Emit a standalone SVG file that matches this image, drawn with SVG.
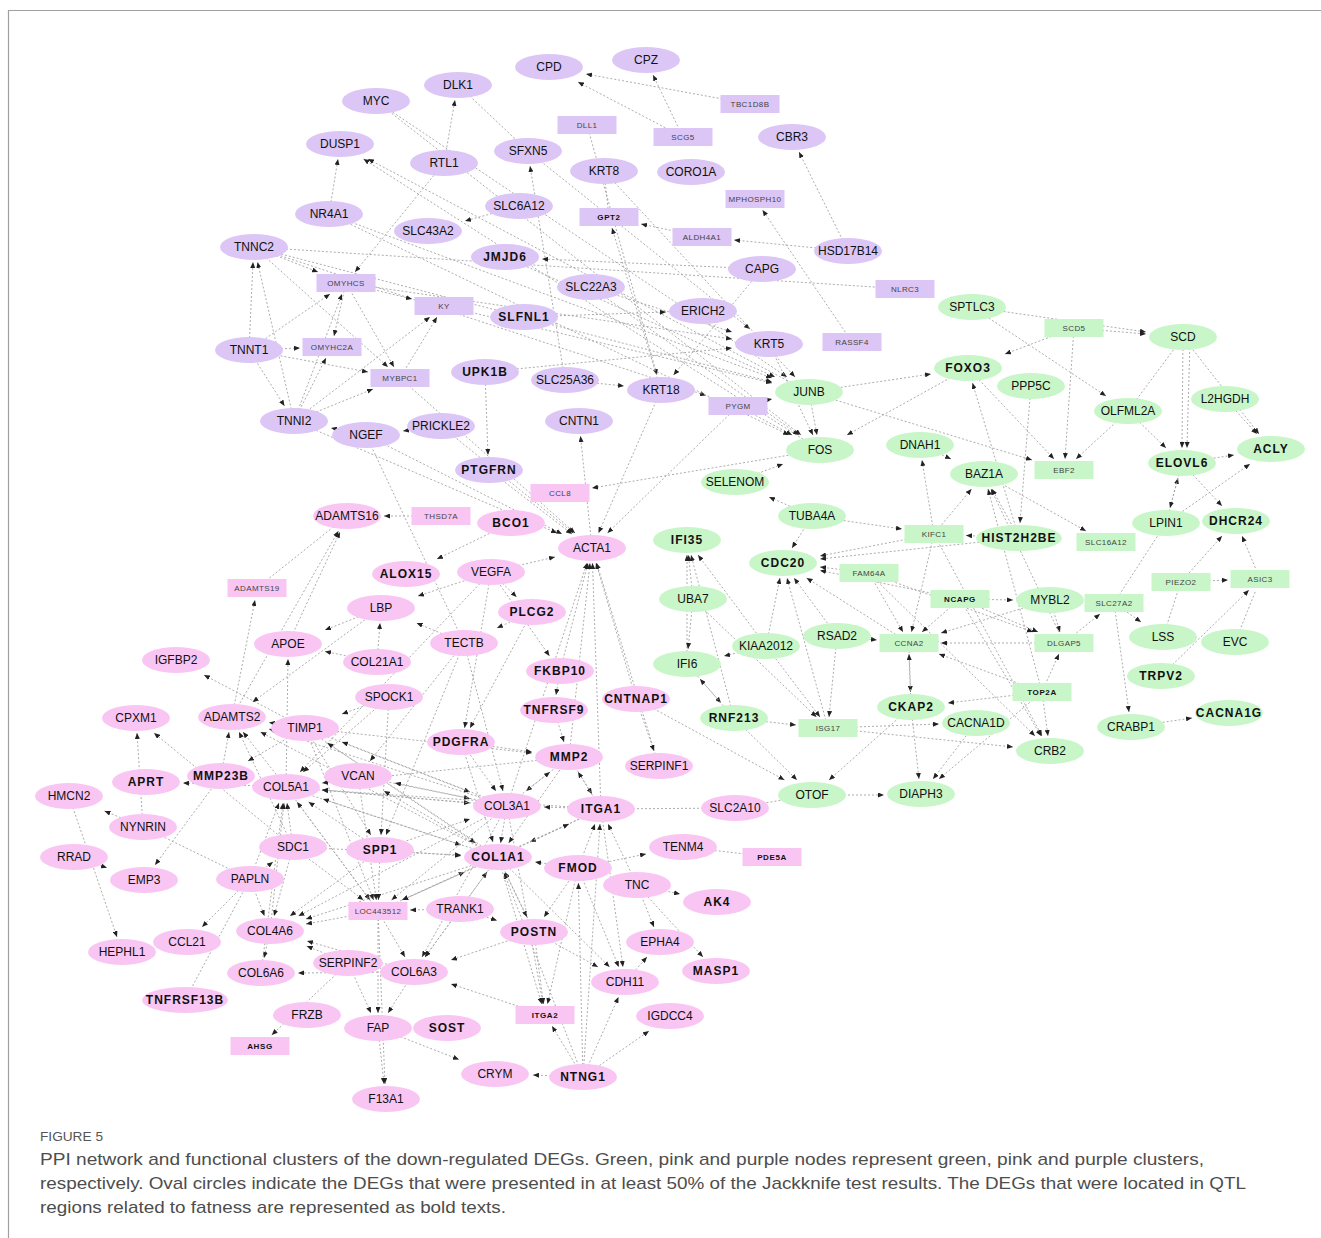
<svg xmlns="http://www.w3.org/2000/svg" width="1321" height="1238" viewBox="0 0 1321 1238">
<defs>
<marker id="a" viewBox="0 0 6 5" refX="6" refY="2.5" markerWidth="6" markerHeight="5" markerUnits="userSpaceOnUse" orient="auto"><path d="M0,0L6,2.5L0,5z" fill="#222"/></marker>
<style>
.e line{stroke:#a3a3a3;stroke-width:0.9;stroke-dasharray:2 2;marker-end:url(#a)}
.pl line{stroke:#a3a3a3;stroke-width:0.9;stroke-dasharray:2 2}
.p{fill:#dcc6f6}.k{fill:#f9c6f4}.g{fill:#c8f6c8}
text{font-family:"Liberation Sans",Arial,sans-serif}
.n text{font-size:12px;text-anchor:middle;fill:#111}
.n text.b{font-weight:bold;letter-spacing:1px}
.n text.s{font-size:8px;fill:#444;letter-spacing:0.4px}
.n text.sb{font-size:8px;font-weight:bold;fill:#111;letter-spacing:0.6px}
.cap{font-size:17px;fill:#4d4d4d}
</style>
</defs>
<rect width="1321" height="1238" fill="#fff"/>
<path d="M8.5,1238V10.5H1321" fill="none" stroke="#a0a0a0" stroke-width="1.2"/>
<g id="connectors">
<g class="e">
<line x1="750" y1="104" x2="586" y2="74"/><line x1="683" y1="137" x2="578" y2="82"/><line x1="683" y1="137" x2="653" y2="75"/>
<line x1="848" y1="251" x2="799" y2="152"/><line x1="848" y1="251" x2="734" y2="240"/><line x1="702" y1="237" x2="641" y2="224"/>
<line x1="852" y1="342" x2="762.5" y2="210"/><line x1="444" y1="163" x2="455" y2="100"/><line x1="329" y1="214" x2="338" y2="159"/>
<line x1="444" y1="163" x2="355" y2="272"/><line x1="376" y1="101" x2="787" y2="377"/><line x1="809" y1="392" x2="368" y2="159"/>
<line x1="820" y1="450" x2="363.5" y2="159"/><line x1="519" y1="206" x2="465" y2="221"/><line x1="565" y1="380" x2="530" y2="166"/>
<line x1="762" y1="269" x2="542" y2="259"/><line x1="762" y1="269" x2="673.5" y2="375"/><line x1="524" y1="317" x2="666" y2="312"/>
<line x1="591" y1="287" x2="732" y2="332"/><line x1="485" y1="372" x2="732" y2="348"/><line x1="329" y1="214" x2="772" y2="378"/>
<line x1="565" y1="380" x2="624" y2="386"/><line x1="254" y1="247" x2="706" y2="395.5"/><line x1="809" y1="392" x2="817" y2="435"/>
<line x1="738" y1="406" x2="792" y2="435"/><line x1="769" y1="344" x2="813" y2="435"/><line x1="591" y1="287" x2="799" y2="435"/>
<line x1="735" y1="482" x2="783" y2="464"/><line x1="820" y1="450" x2="592" y2="488"/><line x1="812" y1="516" x2="769" y2="497"/>
<line x1="812" y1="516" x2="792" y2="548"/><line x1="809" y1="392" x2="931" y2="374"/><line x1="809" y1="392" x2="1032" y2="460"/>
<line x1="1031" y1="386" x2="1020" y2="523"/><line x1="968" y1="368" x2="1054" y2="459"/><line x1="1074" y1="328" x2="1005" y2="354"/>
<line x1="1074" y1="328" x2="1065" y2="459"/><line x1="1074" y1="328" x2="1146" y2="334"/><line x1="972" y1="307" x2="1146" y2="332"/>
<line x1="972" y1="307" x2="1106" y2="396"/><line x1="1128" y1="411" x2="1166" y2="448"/><line x1="1128" y1="411" x2="1076" y2="459"/>
<line x1="1183" y1="337" x2="1182" y2="448"/><line x1="1190" y1="340" x2="1187" y2="448"/><line x1="1183" y1="337" x2="1259" y2="434"/>
<line x1="1225" y1="399" x2="1257" y2="434"/><line x1="1182" y1="463" x2="1234" y2="455"/><line x1="1166" y1="523" x2="1178" y2="478"/>
<line x1="1182" y1="463" x2="1170" y2="508"/><line x1="1166" y1="523" x2="1250" y2="464"/><line x1="1182" y1="463" x2="1222" y2="506"/>
<line x1="1181" y1="582" x2="1222" y2="536"/><line x1="1260" y1="579" x2="1242" y2="536"/><line x1="1181" y1="582" x2="1228" y2="580"/>
<line x1="1161" y1="676" x2="1249" y2="590"/><line x1="1114" y1="603" x2="1141" y2="622"/><line x1="1114" y1="603" x2="1129" y2="712"/>
<line x1="1131" y1="727" x2="1192" y2="718"/><line x1="1064" y1="643" x2="1100" y2="614"/><line x1="1050" y1="600" x2="1060" y2="632"/>
<line x1="1042" y1="692" x2="1059" y2="654"/><line x1="1042" y1="692" x2="1048" y2="736"/><line x1="960" y1="599" x2="1013" y2="600"/>
<line x1="920" y1="445" x2="951" y2="459"/><line x1="984" y1="474" x2="1086" y2="531"/><line x1="934" y1="534" x2="922" y2="460"/>
<line x1="1019" y1="538" x2="992" y2="489"/><line x1="934" y1="534" x2="971.5" y2="489"/><line x1="1019" y1="538" x2="966" y2="535.5"/>
<line x1="812" y1="516" x2="902" y2="529"/><line x1="869" y1="573" x2="820" y2="567"/><line x1="960" y1="599" x2="820" y2="570.5"/>
<line x1="934" y1="534" x2="820" y2="556"/><line x1="909" y1="643" x2="806.6" y2="578"/><line x1="837" y1="636" x2="794" y2="578"/>
<line x1="828" y1="728" x2="787" y2="578"/><line x1="766" y1="646" x2="780" y2="578"/><line x1="687" y1="664" x2="687" y2="555"/>
<line x1="693" y1="599" x2="688.5" y2="555"/><line x1="766" y1="646" x2="698" y2="555"/><line x1="734" y1="718" x2="691" y2="555"/>
<line x1="693" y1="599" x2="688" y2="649"/><line x1="837" y1="636" x2="877" y2="640"/><line x1="693" y1="599" x2="816.5" y2="717"/>
<line x1="766" y1="646" x2="820" y2="717"/><line x1="837" y1="636" x2="829" y2="717"/><line x1="734" y1="718" x2="796" y2="725"/>
<line x1="687" y1="664" x2="721" y2="703"/><line x1="734" y1="718" x2="700" y2="679"/><line x1="766" y1="646" x2="724" y2="656"/>
<line x1="909" y1="643" x2="910.5" y2="692"/><line x1="911" y1="707" x2="909" y2="654"/><line x1="1042" y1="692" x2="948" y2="703"/>
<line x1="911" y1="707" x2="919" y2="779"/><line x1="976" y1="723" x2="933" y2="779"/><line x1="812" y1="795" x2="884" y2="795"/>
<line x1="734" y1="718" x2="797" y2="780"/><line x1="636" y1="699" x2="784.5" y2="780"/><line x1="828" y1="728" x2="939" y2="724"/>
<line x1="828" y1="728" x2="1013" y2="747"/><line x1="911" y1="707" x2="829" y2="780"/><line x1="960" y1="599" x2="1041" y2="736"/>
<line x1="869" y1="573" x2="1035" y2="736"/><line x1="934" y1="534" x2="1042" y2="736"/><line x1="1042" y1="692" x2="939" y2="779"/>
<line x1="960" y1="599" x2="922" y2="632"/><line x1="869" y1="573" x2="903" y2="632"/><line x1="1050" y1="600" x2="941" y2="633"/>
<line x1="1064" y1="643" x2="941" y2="643"/><line x1="1042" y1="692" x2="939" y2="654"/><line x1="934" y1="534" x2="911.5" y2="632"/>
<line x1="869" y1="573" x2="1033" y2="632"/><line x1="960" y1="599" x2="1038" y2="632"/><line x1="1019" y1="538" x2="820" y2="559"/>
<line x1="1064" y1="643" x2="991" y2="489"/><line x1="1042" y1="692" x2="988" y2="489"/><line x1="1019" y1="538" x2="972.5" y2="383"/>
<line x1="738" y1="406" x2="772" y2="399"/><line x1="968" y1="368" x2="847" y2="435"/><line x1="505" y1="257" x2="775" y2="377"/>
<line x1="587" y1="125" x2="657" y2="375"/><line x1="661" y1="390" x2="612" y2="228"/><line x1="528" y1="151" x2="750" y2="329"/>
<line x1="604" y1="171" x2="795" y2="377"/><line x1="254" y1="247" x2="772" y2="382"/><line x1="329" y1="214" x2="789" y2="435"/>
<line x1="376" y1="101" x2="801" y2="435"/><line x1="346" y1="283" x2="732" y2="339"/><line x1="444" y1="306" x2="772" y2="383"/>
<line x1="249" y1="350" x2="300" y2="348"/><line x1="249" y1="350" x2="284.5" y2="406"/><line x1="294" y1="421" x2="326" y2="358"/>
<line x1="294" y1="421" x2="257.5" y2="262"/><line x1="249" y1="350" x2="253" y2="262"/><line x1="254" y1="247" x2="318" y2="272"/>
<line x1="346" y1="283" x2="412" y2="299"/><line x1="249" y1="350" x2="330" y2="294"/><line x1="294" y1="421" x2="342" y2="294"/>
<line x1="249" y1="350" x2="368" y2="372"/><line x1="254" y1="247" x2="388" y2="367"/><line x1="346" y1="283" x2="394" y2="367"/>
<line x1="400" y1="378" x2="437" y2="317"/><line x1="294" y1="421" x2="430" y2="317"/><line x1="346" y1="283" x2="334" y2="336"/>
<line x1="294" y1="421" x2="373" y2="389"/><line x1="441" y1="426" x2="403" y2="431"/><line x1="366" y1="435" x2="331" y2="428"/>
<line x1="485" y1="372" x2="488" y2="455"/><line x1="366" y1="435" x2="562" y2="534"/><line x1="489" y1="470" x2="572" y2="534"/>
<line x1="441" y1="426" x2="573.4" y2="533"/><line x1="400" y1="378" x2="575" y2="533"/><line x1="294" y1="421" x2="557" y2="533"/>
<line x1="661" y1="390" x2="598.5" y2="533"/><line x1="738" y1="406" x2="607.5" y2="533"/><line x1="491" y1="572" x2="555" y2="557"/>
<line x1="592" y1="548" x2="580.5" y2="436"/><line x1="511" y1="523" x2="437" y2="559"/><line x1="441" y1="516" x2="384" y2="516"/>
<line x1="232" y1="717" x2="338.4" y2="531"/><line x1="288" y1="644" x2="340" y2="532"/><line x1="232" y1="717" x2="255" y2="600"/>
<line x1="305" y1="728" x2="204" y2="675"/><line x1="381" y1="608" x2="252.6" y2="702"/><line x1="286" y1="787" x2="243" y2="732"/>
<line x1="305" y1="728" x2="269" y2="722.6"/><line x1="498" y1="857" x2="260.5" y2="732"/><line x1="507" y1="806" x2="269" y2="729"/>
<line x1="221" y1="776" x2="229" y2="732"/><line x1="293" y1="847" x2="239" y2="732"/><line x1="286" y1="787" x2="288" y2="659"/>
<line x1="377" y1="662" x2="325" y2="651.5"/><line x1="381" y1="608" x2="325" y2="630"/><line x1="143" y1="827" x2="137" y2="733"/>
<line x1="293" y1="847" x2="154" y2="733"/><line x1="286" y1="787" x2="183" y2="783"/><line x1="143" y1="827" x2="104.5" y2="811"/>
<line x1="69" y1="796" x2="117" y2="937"/><line x1="74" y1="857" x2="107" y2="867.8"/><line x1="221" y1="776" x2="155" y2="865"/>
<line x1="250" y1="879" x2="273" y2="862"/><line x1="250" y1="879" x2="264.5" y2="916"/><line x1="293" y1="847" x2="274" y2="916"/>
<line x1="250" y1="879" x2="202" y2="927"/><line x1="270" y1="931" x2="264" y2="958"/><line x1="348" y1="963" x2="271.7" y2="1035"/>
<line x1="414" y1="972" x2="298" y2="973"/><line x1="378" y1="911" x2="306" y2="924"/><line x1="498" y1="857" x2="306" y2="919"/>
<line x1="507" y1="806" x2="298.4" y2="916"/><line x1="414" y1="972" x2="307" y2="941"/><line x1="348" y1="963" x2="377" y2="967"/>
<line x1="378" y1="911" x2="405" y2="957"/><line x1="460" y1="909" x2="425" y2="957"/><line x1="545" y1="1015" x2="451" y2="984"/>
<line x1="378" y1="911" x2="378" y2="1013"/><line x1="348" y1="963" x2="371" y2="1013"/><line x1="414" y1="972" x2="388" y2="1013"/>
<line x1="378" y1="1028" x2="384" y2="1084"/><line x1="378" y1="911" x2="385" y2="1084"/><line x1="378" y1="1028" x2="459" y2="1059.5"/>
<line x1="583" y1="1077" x2="533" y2="1075"/><line x1="583" y1="1077" x2="552" y2="1026"/><line x1="583" y1="1077" x2="649" y2="1031"/>
<line x1="583" y1="1077" x2="618.5" y2="997"/><line x1="583" y1="1077" x2="578.4" y2="883"/><line x1="583" y1="1077" x2="504" y2="873"/>
<line x1="583" y1="1077" x2="600" y2="824"/><line x1="625" y1="982" x2="647" y2="957"/><line x1="637" y1="885" x2="654" y2="927"/>
<line x1="637" y1="885" x2="680" y2="894"/><line x1="637" y1="885" x2="703" y2="957"/><line x1="578" y1="868" x2="646" y2="854"/>
<line x1="637" y1="885" x2="615" y2="879"/><line x1="601" y1="809" x2="544" y2="807"/><line x1="569" y1="757" x2="526" y2="791"/>
<line x1="461" y1="742" x2="496" y2="791"/><line x1="305" y1="728" x2="470" y2="792"/><line x1="286" y1="787" x2="470" y2="803"/>
<line x1="358" y1="776" x2="470" y2="798.6"/><line x1="601" y1="809" x2="530" y2="842"/><line x1="507" y1="806" x2="500.6" y2="843"/>
<line x1="569" y1="757" x2="508.6" y2="843"/><line x1="380" y1="850" x2="461" y2="855.8"/><line x1="305" y1="728" x2="475.6" y2="843"/>
<line x1="286" y1="787" x2="461" y2="845"/><line x1="293" y1="847" x2="461" y2="855"/><line x1="461" y1="742" x2="493" y2="842"/>
<line x1="578" y1="868" x2="535" y2="862"/><line x1="534" y1="932" x2="505" y2="872"/><line x1="460" y1="909" x2="487" y2="872"/>
<line x1="378" y1="911" x2="464.6" y2="872"/><line x1="498" y1="857" x2="527" y2="917"/><line x1="460" y1="909" x2="497" y2="920.5"/>
<line x1="578" y1="868" x2="544" y2="917"/><line x1="498" y1="857" x2="541.7" y2="1004"/><line x1="507" y1="806" x2="543" y2="1004"/>
<line x1="534" y1="932" x2="543.5" y2="1004"/><line x1="578" y1="868" x2="547.5" y2="1004"/><line x1="498" y1="857" x2="609.6" y2="967"/>
<line x1="534" y1="932" x2="598" y2="967"/><line x1="578" y1="868" x2="618.8" y2="967"/><line x1="601" y1="809" x2="623" y2="967"/>
<line x1="460" y1="909" x2="410" y2="910"/><line x1="380" y1="850" x2="378.4" y2="900"/><line x1="358" y1="776" x2="376.4" y2="900"/>
<line x1="286" y1="787" x2="370" y2="900"/><line x1="305" y1="728" x2="373.6" y2="900"/><line x1="293" y1="847" x2="363.4" y2="900"/>
<line x1="507" y1="806" x2="391.5" y2="900"/><line x1="498" y1="857" x2="402.5" y2="900"/><line x1="389" y1="697" x2="381" y2="835"/>
<line x1="464" y1="643" x2="386" y2="835"/><line x1="305" y1="728" x2="370.8" y2="835"/><line x1="464" y1="643" x2="370" y2="761"/>
<line x1="491" y1="572" x2="464.6" y2="728"/><line x1="532" y1="612" x2="470" y2="728"/><line x1="461" y1="742" x2="532" y2="752"/>
<line x1="554" y1="710" x2="564" y2="742"/><line x1="560" y1="671" x2="556" y2="695"/><line x1="569" y1="757" x2="592" y2="794"/>
<line x1="601" y1="809" x2="578" y2="772"/><line x1="507" y1="806" x2="550" y2="772"/><line x1="305" y1="728" x2="532" y2="753"/>
<line x1="491" y1="572" x2="516.6" y2="597"/><line x1="532" y1="612" x2="497" y2="628"/><line x1="491" y1="572" x2="418" y2="596"/>
<line x1="377" y1="662" x2="380" y2="623"/><line x1="464" y1="643" x2="416.6" y2="623"/><line x1="491" y1="572" x2="549.5" y2="656"/>
<line x1="560" y1="671" x2="588" y2="563"/><line x1="601" y1="809" x2="592.5" y2="563"/><line x1="569" y1="757" x2="590" y2="563"/>
<line x1="636" y1="699" x2="596" y2="563"/><line x1="659" y1="766" x2="596.6" y2="563"/><line x1="507" y1="806" x2="587" y2="563"/>
<line x1="636" y1="699" x2="654" y2="751"/><line x1="293" y1="847" x2="287" y2="803"/><line x1="507" y1="806" x2="322" y2="790"/>
<line x1="498" y1="857" x2="323" y2="799"/><line x1="601" y1="809" x2="322" y2="790"/><line x1="569" y1="757" x2="322" y2="783"/>
<line x1="380" y1="850" x2="308.6" y2="802"/><line x1="378" y1="911" x2="297" y2="802"/><line x1="270" y1="931" x2="284" y2="803"/>
<line x1="250" y1="879" x2="279" y2="803"/><line x1="261" y1="973" x2="283" y2="803"/><line x1="498" y1="857" x2="327.4" y2="743"/>
<line x1="507" y1="806" x2="342" y2="742"/><line x1="389" y1="697" x2="342" y2="714"/><line x1="498" y1="857" x2="384" y2="791"/>
<line x1="507" y1="806" x2="395" y2="783"/><line x1="380" y1="850" x2="470" y2="819"/><line x1="380" y1="850" x2="290" y2="916"/>
<line x1="498" y1="857" x2="425" y2="957"/><line x1="507" y1="806" x2="422" y2="957"/><line x1="534" y1="932" x2="451" y2="960"/>
<line x1="601" y1="809" x2="402" y2="900"/><line x1="498" y1="857" x2="569" y2="824"/><line x1="578" y1="868" x2="595" y2="824"/>
<line x1="637" y1="885" x2="608" y2="824"/><line x1="464" y1="643" x2="503" y2="791"/><line x1="348" y1="963" x2="306.7" y2="946"/>
<line x1="305" y1="728" x2="248" y2="761"/><line x1="491" y1="572" x2="300" y2="772"/><line x1="389" y1="697" x2="303" y2="772"/>
</g>
<g class="pl">
<line x1="458" y1="85" x2="528" y2="151"/><line x1="254" y1="247" x2="905" y2="289"/><line x1="1183" y1="337" x2="1128" y2="411"/>
<line x1="1235" y1="642" x2="1256" y2="590"/><line x1="1163" y1="637" x2="1178" y2="591"/><line x1="735" y1="808" x2="812" y2="795"/>
<line x1="1166" y1="523" x2="1114" y2="603"/><line x1="604" y1="171" x2="609" y2="217"/><line x1="366" y1="435" x2="464" y2="643"/>
<line x1="257" y1="588" x2="347" y2="516"/><line x1="143" y1="827" x2="250" y2="879"/><line x1="185" y1="1000" x2="250" y2="879"/>
<line x1="683" y1="847" x2="772" y2="857"/><line x1="601" y1="809" x2="735" y2="808"/>
</g>
</g>
<g id="nodes" class="n">
<g id="CPD"><ellipse class="p" cx="549" cy="67" rx="34" ry="13"/><text x="549" y="71">CPD</text></g>
<g id="CPZ"><ellipse class="p" cx="646" cy="60" rx="34" ry="13"/><text x="646" y="64">CPZ</text></g>
<g id="TBC1D8B"><rect class="p" x="720.5" y="95" width="59" height="18"/><text class="s" x="750" y="107">TBC1D8B</text></g>
<g id="DLK1"><ellipse class="p" cx="458" cy="85" rx="34" ry="13"/><text x="458" y="89">DLK1</text></g>
<g id="MYC"><ellipse class="p" cx="376" cy="101" rx="34" ry="13"/><text x="376" y="105">MYC</text></g>
<g id="DLL1"><rect class="p" x="557.5" y="116" width="59" height="18"/><text class="s" x="587" y="128">DLL1</text></g>
<g id="SCG5"><rect class="p" x="653.5" y="128" width="59" height="18"/><text class="s" x="683" y="140">SCG5</text></g>
<g id="CBR3"><ellipse class="p" cx="792" cy="137" rx="34" ry="13"/><text x="792" y="141">CBR3</text></g>
<g id="DUSP1"><ellipse class="p" cx="340" cy="144" rx="34" ry="13"/><text x="340" y="148">DUSP1</text></g>
<g id="RTL1"><ellipse class="p" cx="444" cy="163" rx="34" ry="13"/><text x="444" y="167">RTL1</text></g>
<g id="SFXN5"><ellipse class="p" cx="528" cy="151" rx="34" ry="13"/><text x="528" y="155">SFXN5</text></g>
<g id="KRT8"><ellipse class="p" cx="604" cy="171" rx="34" ry="13"/><text x="604" y="175">KRT8</text></g>
<g id="CORO1A"><ellipse class="p" cx="691" cy="172" rx="34" ry="13"/><text x="691" y="176">CORO1A</text></g>
<g id="MPHOSPH10"><rect class="p" x="725.5" y="190" width="59" height="18"/><text class="s" x="755" y="202">MPHOSPH10</text></g>
<g id="NR4A1"><ellipse class="p" cx="329" cy="214" rx="34" ry="13"/><text x="329" y="218">NR4A1</text></g>
<g id="SLC6A12"><ellipse class="p" cx="519" cy="206" rx="34" ry="13"/><text x="519" y="210">SLC6A12</text></g>
<g id="SLC43A2"><ellipse class="p" cx="428" cy="231" rx="34" ry="13"/><text x="428" y="235">SLC43A2</text></g>
<g id="GPT2"><rect class="p" x="579.5" y="208" width="59" height="18"/><text class="sb" x="609" y="220">GPT2</text></g>
<g id="ALDH4A1"><rect class="p" x="672.5" y="228" width="59" height="18"/><text class="s" x="702" y="240">ALDH4A1</text></g>
<g id="HSD17B14"><ellipse class="p" cx="848" cy="251" rx="34" ry="13"/><text x="848" y="255">HSD17B14</text></g>
<g id="TNNC2"><ellipse class="p" cx="254" cy="247" rx="34" ry="13"/><text x="254" y="251">TNNC2</text></g>
<g id="JMJD6"><ellipse class="p" cx="505" cy="257" rx="34" ry="13"/><text class="b" x="505" y="261">JMJD6</text></g>
<g id="SLC22A3"><ellipse class="p" cx="591" cy="287" rx="34" ry="13"/><text x="591" y="291">SLC22A3</text></g>
<g id="CAPG"><ellipse class="p" cx="762" cy="269" rx="34" ry="13"/><text x="762" y="273">CAPG</text></g>
<g id="OMYHCS"><rect class="p" x="316.5" y="274" width="59" height="18"/><text class="s" x="346" y="286">OMYHCS</text></g>
<g id="NLRC3"><rect class="p" x="875.5" y="280" width="59" height="18"/><text class="s" x="905" y="292">NLRC3</text></g>
<g id="KY"><rect class="p" x="414.5" y="297" width="59" height="18"/><text class="s" x="444" y="309">KY</text></g>
<g id="SLFNL1"><ellipse class="p" cx="524" cy="317" rx="34" ry="13"/><text class="b" x="524" y="321">SLFNL1</text></g>
<g id="ERICH2"><ellipse class="p" cx="703" cy="311" rx="34" ry="13"/><text x="703" y="315">ERICH2</text></g>
<g id="RASSF4"><rect class="p" x="822.5" y="333" width="59" height="18"/><text class="s" x="852" y="345">RASSF4</text></g>
<g id="KRT5"><ellipse class="p" cx="769" cy="344" rx="34" ry="13"/><text x="769" y="348">KRT5</text></g>
<g id="TNNT1"><ellipse class="p" cx="249" cy="350" rx="34" ry="13"/><text x="249" y="354">TNNT1</text></g>
<g id="OMYHC2A"><rect class="p" x="302.5" y="338" width="59" height="18"/><text class="s" x="332" y="350">OMYHC2A</text></g>
<g id="MYBPC1"><rect class="p" x="370.5" y="369" width="59" height="18"/><text class="s" x="400" y="381">MYBPC1</text></g>
<g id="UPK1B"><ellipse class="p" cx="485" cy="372" rx="34" ry="13"/><text class="b" x="485" y="376">UPK1B</text></g>
<g id="SLC25A36"><ellipse class="p" cx="565" cy="380" rx="34" ry="13"/><text x="565" y="384">SLC25A36</text></g>
<g id="KRT18"><ellipse class="p" cx="661" cy="390" rx="34" ry="13"/><text x="661" y="394">KRT18</text></g>
<g id="PYGM"><rect class="p" x="708.5" y="397" width="59" height="18"/><text class="s" x="738" y="409">PYGM</text></g>
<g id="TNNI2"><ellipse class="p" cx="294" cy="421" rx="34" ry="13"/><text x="294" y="425">TNNI2</text></g>
<g id="NGEF"><ellipse class="p" cx="366" cy="435" rx="34" ry="13"/><text x="366" y="439">NGEF</text></g>
<g id="PRICKLE2"><ellipse class="p" cx="441" cy="426" rx="34" ry="13"/><text x="441" y="430">PRICKLE2</text></g>
<g id="CNTN1"><ellipse class="p" cx="579" cy="421" rx="34" ry="13"/><text x="579" y="425">CNTN1</text></g>
<g id="PTGFRN"><ellipse class="p" cx="489" cy="470" rx="34" ry="13"/><text class="b" x="489" y="474">PTGFRN</text></g>
<g id="CCL8"><rect class="k" x="530.5" y="484" width="59" height="18"/><text class="s" x="560" y="496">CCL8</text></g>
<g id="ADAMTS16"><ellipse class="k" cx="347" cy="516" rx="34" ry="13"/><text x="347" y="520">ADAMTS16</text></g>
<g id="THSD7A"><rect class="k" x="411.5" y="507" width="59" height="18"/><text class="s" x="441" y="519">THSD7A</text></g>
<g id="BCO1"><ellipse class="k" cx="511" cy="523" rx="34" ry="13"/><text class="b" x="511" y="527">BCO1</text></g>
<g id="ACTA1"><ellipse class="k" cx="592" cy="548" rx="34" ry="13"/><text x="592" y="552">ACTA1</text></g>
<g id="ALOX15"><ellipse class="k" cx="406" cy="574" rx="34" ry="13"/><text class="b" x="406" y="578">ALOX15</text></g>
<g id="VEGFA"><ellipse class="k" cx="491" cy="572" rx="34" ry="13"/><text x="491" y="576">VEGFA</text></g>
<g id="ADAMTS19"><rect class="k" x="227.5" y="579" width="59" height="18"/><text class="s" x="257" y="591">ADAMTS19</text></g>
<g id="LBP"><ellipse class="k" cx="381" cy="608" rx="34" ry="13"/><text x="381" y="612">LBP</text></g>
<g id="PLCG2"><ellipse class="k" cx="532" cy="612" rx="34" ry="13"/><text class="b" x="532" y="616">PLCG2</text></g>
<g id="APOE"><ellipse class="k" cx="288" cy="644" rx="34" ry="13"/><text x="288" y="648">APOE</text></g>
<g id="TECTB"><ellipse class="k" cx="464" cy="643" rx="34" ry="13"/><text x="464" y="647">TECTB</text></g>
<g id="IGFBP2"><ellipse class="k" cx="176" cy="660" rx="34" ry="13"/><text x="176" y="664">IGFBP2</text></g>
<g id="COL21A1"><ellipse class="k" cx="377" cy="662" rx="34" ry="13"/><text x="377" y="666">COL21A1</text></g>
<g id="FKBP10"><ellipse class="k" cx="560" cy="671" rx="34" ry="13"/><text class="b" x="560" y="675">FKBP10</text></g>
<g id="CNTNAP1"><ellipse class="k" cx="636" cy="699" rx="34" ry="13"/><text class="b" x="636" y="703">CNTNAP1</text></g>
<g id="SPOCK1"><ellipse class="k" cx="389" cy="697" rx="34" ry="13"/><text x="389" y="701">SPOCK1</text></g>
<g id="TNFRSF9"><ellipse class="k" cx="554" cy="710" rx="34" ry="13"/><text class="b" x="554" y="714">TNFRSF9</text></g>
<g id="CPXM1"><ellipse class="k" cx="136" cy="718" rx="34" ry="13"/><text x="136" y="722">CPXM1</text></g>
<g id="ADAMTS2"><ellipse class="k" cx="232" cy="717" rx="34" ry="13"/><text x="232" y="721">ADAMTS2</text></g>
<g id="TIMP1"><ellipse class="k" cx="305" cy="728" rx="34" ry="13"/><text x="305" y="732">TIMP1</text></g>
<g id="PDGFRA"><ellipse class="k" cx="461" cy="742" rx="34" ry="13"/><text class="b" x="461" y="746">PDGFRA</text></g>
<g id="MMP2"><ellipse class="k" cx="569" cy="757" rx="34" ry="13"/><text class="b" x="569" y="761">MMP2</text></g>
<g id="SERPINF1"><ellipse class="k" cx="659" cy="766" rx="34" ry="13"/><text x="659" y="770">SERPINF1</text></g>
<g id="APRT"><ellipse class="k" cx="146" cy="782" rx="34" ry="13"/><text class="b" x="146" y="786">APRT</text></g>
<g id="MMP23B"><ellipse class="k" cx="221" cy="776" rx="34" ry="13"/><text class="b" x="221" y="780">MMP23B</text></g>
<g id="COL5A1"><ellipse class="k" cx="286" cy="787" rx="34" ry="13"/><text x="286" y="791">COL5A1</text></g>
<g id="VCAN"><ellipse class="k" cx="358" cy="776" rx="34" ry="13"/><text x="358" y="780">VCAN</text></g>
<g id="HMCN2"><ellipse class="k" cx="69" cy="796" rx="34" ry="13"/><text x="69" y="800">HMCN2</text></g>
<g id="COL3A1"><ellipse class="k" cx="507" cy="806" rx="34" ry="13"/><text x="507" y="810">COL3A1</text></g>
<g id="ITGA1"><ellipse class="k" cx="601" cy="809" rx="34" ry="13"/><text class="b" x="601" y="813">ITGA1</text></g>
<g id="SLC2A10"><ellipse class="k" cx="735" cy="808" rx="34" ry="13"/><text x="735" y="812">SLC2A10</text></g>
<g id="NYNRIN"><ellipse class="k" cx="143" cy="827" rx="34" ry="13"/><text x="143" y="831">NYNRIN</text></g>
<g id="SDC1"><ellipse class="k" cx="293" cy="847" rx="34" ry="13"/><text x="293" y="851">SDC1</text></g>
<g id="SPP1"><ellipse class="k" cx="380" cy="850" rx="34" ry="13"/><text class="b" x="380" y="854">SPP1</text></g>
<g id="COL1A1"><ellipse class="k" cx="498" cy="857" rx="34" ry="13"/><text class="b" x="498" y="861">COL1A1</text></g>
<g id="TENM4"><ellipse class="k" cx="683" cy="847" rx="34" ry="13"/><text x="683" y="851">TENM4</text></g>
<g id="PDE5A"><rect class="k" x="742.5" y="848" width="59" height="18"/><text class="sb" x="772" y="860">PDE5A</text></g>
<g id="RRAD"><ellipse class="k" cx="74" cy="857" rx="34" ry="13"/><text x="74" y="861">RRAD</text></g>
<g id="FMOD"><ellipse class="k" cx="578" cy="868" rx="34" ry="13"/><text class="b" x="578" y="872">FMOD</text></g>
<g id="EMP3"><ellipse class="k" cx="144" cy="880" rx="34" ry="13"/><text x="144" y="884">EMP3</text></g>
<g id="PAPLN"><ellipse class="k" cx="250" cy="879" rx="34" ry="13"/><text x="250" y="883">PAPLN</text></g>
<g id="TNC"><ellipse class="k" cx="637" cy="885" rx="34" ry="13"/><text x="637" y="889">TNC</text></g>
<g id="AK4"><ellipse class="k" cx="717" cy="902" rx="34" ry="13"/><text class="b" x="717" y="906">AK4</text></g>
<g id="LOC443512"><rect class="k" x="348.5" y="902" width="59" height="18"/><text class="s" x="378" y="914">LOC443512</text></g>
<g id="TRANK1"><ellipse class="k" cx="460" cy="909" rx="34" ry="13"/><text x="460" y="913">TRANK1</text></g>
<g id="POSTN"><ellipse class="k" cx="534" cy="932" rx="34" ry="13"/><text class="b" x="534" y="936">POSTN</text></g>
<g id="COL4A6"><ellipse class="k" cx="270" cy="931" rx="34" ry="13"/><text x="270" y="935">COL4A6</text></g>
<g id="CCL21"><ellipse class="k" cx="187" cy="942" rx="34" ry="13"/><text x="187" y="946">CCL21</text></g>
<g id="HEPHL1"><ellipse class="k" cx="122" cy="952" rx="34" ry="13"/><text x="122" y="956">HEPHL1</text></g>
<g id="EPHA4"><ellipse class="k" cx="660" cy="942" rx="34" ry="13"/><text x="660" y="946">EPHA4</text></g>
<g id="SERPINF2"><ellipse class="k" cx="348" cy="963" rx="35" ry="13"/><text x="348" y="967">SERPINF2</text></g>
<g id="COL6A3"><ellipse class="k" cx="414" cy="972" rx="34" ry="13"/><text x="414" y="976">COL6A3</text></g>
<g id="COL6A6"><ellipse class="k" cx="261" cy="973" rx="34" ry="13"/><text x="261" y="977">COL6A6</text></g>
<g id="MASP1"><ellipse class="k" cx="716" cy="971" rx="34" ry="13"/><text class="b" x="716" y="975">MASP1</text></g>
<g id="CDH11"><ellipse class="k" cx="625" cy="982" rx="34" ry="13"/><text x="625" y="986">CDH11</text></g>
<g id="TNFRSF13B"><ellipse class="k" cx="185" cy="1000" rx="43" ry="13"/><text class="b" x="185" y="1004">TNFRSF13B</text></g>
<g id="FRZB"><ellipse class="k" cx="307" cy="1015" rx="34" ry="13"/><text x="307" y="1019">FRZB</text></g>
<g id="ITGA2"><rect class="k" x="515.5" y="1006" width="59" height="18"/><text class="sb" x="545" y="1018">ITGA2</text></g>
<g id="IGDCC4"><ellipse class="k" cx="670" cy="1016" rx="34" ry="13"/><text x="670" y="1020">IGDCC4</text></g>
<g id="FAP"><ellipse class="k" cx="378" cy="1028" rx="34" ry="13"/><text x="378" y="1032">FAP</text></g>
<g id="SOST"><ellipse class="k" cx="447" cy="1028" rx="34" ry="13"/><text class="b" x="447" y="1032">SOST</text></g>
<g id="AHSG"><rect class="k" x="230.5" y="1037" width="59" height="18"/><text class="sb" x="260" y="1049">AHSG</text></g>
<g id="CRYM"><ellipse class="k" cx="495" cy="1074" rx="34" ry="13"/><text x="495" y="1078">CRYM</text></g>
<g id="NTNG1"><ellipse class="k" cx="583" cy="1077" rx="34" ry="13"/><text class="b" x="583" y="1081">NTNG1</text></g>
<g id="F13A1"><ellipse class="k" cx="386" cy="1099" rx="34" ry="13"/><text x="386" y="1103">F13A1</text></g>
<g id="SPTLC3"><ellipse class="g" cx="972" cy="307" rx="34" ry="13"/><text x="972" y="311">SPTLC3</text></g>
<g id="SCD5"><rect class="g" x="1044.5" y="319" width="59" height="18"/><text class="s" x="1074" y="331">SCD5</text></g>
<g id="SCD"><ellipse class="g" cx="1183" cy="337" rx="34" ry="13"/><text x="1183" y="341">SCD</text></g>
<g id="FOXO3"><ellipse class="g" cx="968" cy="368" rx="34" ry="13"/><text class="b" x="968" y="372">FOXO3</text></g>
<g id="PPP5C"><ellipse class="g" cx="1031" cy="386" rx="34" ry="13"/><text x="1031" y="390">PPP5C</text></g>
<g id="OLFML2A"><ellipse class="g" cx="1128" cy="411" rx="34" ry="13"/><text x="1128" y="415">OLFML2A</text></g>
<g id="L2HGDH"><ellipse class="g" cx="1225" cy="399" rx="34" ry="13"/><text x="1225" y="403">L2HGDH</text></g>
<g id="JUNB"><ellipse class="g" cx="809" cy="392" rx="34" ry="13"/><text x="809" y="396">JUNB</text></g>
<g id="FOS"><ellipse class="g" cx="820" cy="450" rx="34" ry="13"/><text x="820" y="454">FOS</text></g>
<g id="DNAH1"><ellipse class="g" cx="920" cy="445" rx="34" ry="13"/><text x="920" y="449">DNAH1</text></g>
<g id="BAZ1A"><ellipse class="g" cx="984" cy="474" rx="34" ry="13"/><text x="984" y="478">BAZ1A</text></g>
<g id="EBF2"><rect class="g" x="1034.5" y="461" width="59" height="18"/><text class="s" x="1064" y="473">EBF2</text></g>
<g id="ELOVL6"><ellipse class="g" cx="1182" cy="463" rx="34" ry="13"/><text class="b" x="1182" y="467">ELOVL6</text></g>
<g id="ACLY"><ellipse class="g" cx="1271" cy="449" rx="34" ry="13"/><text class="b" x="1271" y="453">ACLY</text></g>
<g id="SELENOM"><ellipse class="g" cx="735" cy="482" rx="34" ry="13"/><text x="735" y="486">SELENOM</text></g>
<g id="TUBA4A"><ellipse class="g" cx="812" cy="516" rx="34" ry="13"/><text x="812" y="520">TUBA4A</text></g>
<g id="KIFC1"><rect class="g" x="904.5" y="525" width="59" height="18"/><text class="s" x="934" y="537">KIFC1</text></g>
<g id="HIST2H2BE"><ellipse class="g" cx="1019" cy="538" rx="43" ry="13"/><text class="b" x="1019" y="542">HIST2H2BE</text></g>
<g id="SLC16A12"><rect class="g" x="1076.5" y="533" width="59" height="18"/><text class="s" x="1106" y="545">SLC16A12</text></g>
<g id="LPIN1"><ellipse class="g" cx="1166" cy="523" rx="34" ry="13"/><text x="1166" y="527">LPIN1</text></g>
<g id="DHCR24"><ellipse class="g" cx="1236" cy="521" rx="34" ry="13"/><text class="b" x="1236" y="525">DHCR24</text></g>
<g id="IFI35"><ellipse class="g" cx="687" cy="540" rx="34" ry="13"/><text class="b" x="687" y="544">IFI35</text></g>
<g id="CDC20"><ellipse class="g" cx="783" cy="563" rx="34" ry="13"/><text class="b" x="783" y="567">CDC20</text></g>
<g id="FAM64A"><rect class="g" x="839.5" y="564" width="59" height="18"/><text class="s" x="869" y="576">FAM64A</text></g>
<g id="NCAPG"><rect class="g" x="930.5" y="590" width="59" height="18"/><text class="sb" x="960" y="602">NCAPG</text></g>
<g id="MYBL2"><ellipse class="g" cx="1050" cy="600" rx="34" ry="13"/><text x="1050" y="604">MYBL2</text></g>
<g id="SLC27A2"><rect class="g" x="1084.5" y="594" width="59" height="18"/><text class="s" x="1114" y="606">SLC27A2</text></g>
<g id="PIEZO2"><rect class="g" x="1151.5" y="573" width="59" height="18"/><text class="s" x="1181" y="585">PIEZO2</text></g>
<g id="ASIC3"><rect class="g" x="1230.5" y="570" width="59" height="18"/><text class="s" x="1260" y="582">ASIC3</text></g>
<g id="UBA7"><ellipse class="g" cx="693" cy="599" rx="34" ry="13"/><text x="693" y="603">UBA7</text></g>
<g id="RSAD2"><ellipse class="g" cx="837" cy="636" rx="34" ry="13"/><text x="837" y="640">RSAD2</text></g>
<g id="CCNA2"><rect class="g" x="879.5" y="634" width="59" height="18"/><text class="s" x="909" y="646">CCNA2</text></g>
<g id="DLGAP5"><rect class="g" x="1034.5" y="634" width="59" height="18"/><text class="s" x="1064" y="646">DLGAP5</text></g>
<g id="KIAA2012"><ellipse class="g" cx="766" cy="646" rx="34" ry="13"/><text x="766" y="650">KIAA2012</text></g>
<g id="IFI6"><ellipse class="g" cx="687" cy="664" rx="34" ry="13"/><text x="687" y="668">IFI6</text></g>
<g id="LSS"><ellipse class="g" cx="1163" cy="637" rx="34" ry="13"/><text x="1163" y="641">LSS</text></g>
<g id="EVC"><ellipse class="g" cx="1235" cy="642" rx="34" ry="13"/><text x="1235" y="646">EVC</text></g>
<g id="TRPV2"><ellipse class="g" cx="1161" cy="676" rx="34" ry="13"/><text class="b" x="1161" y="680">TRPV2</text></g>
<g id="TOP2A"><rect class="g" x="1012.5" y="683" width="59" height="18"/><text class="sb" x="1042" y="695">TOP2A</text></g>
<g id="CKAP2"><ellipse class="g" cx="911" cy="707" rx="34" ry="13"/><text class="b" x="911" y="711">CKAP2</text></g>
<g id="RNF213"><ellipse class="g" cx="734" cy="718" rx="34" ry="13"/><text class="b" x="734" y="722">RNF213</text></g>
<g id="ISG17"><rect class="g" x="798.5" y="719" width="59" height="18"/><text class="s" x="828" y="731">ISG17</text></g>
<g id="CACNA1D"><ellipse class="g" cx="976" cy="723" rx="34" ry="13"/><text x="976" y="727">CACNA1D</text></g>
<g id="CRABP1"><ellipse class="g" cx="1131" cy="727" rx="34" ry="13"/><text x="1131" y="731">CRABP1</text></g>
<g id="CACNA1G"><ellipse class="g" cx="1229" cy="713" rx="34" ry="13"/><text class="b" x="1229" y="717">CACNA1G</text></g>
<g id="CRB2"><ellipse class="g" cx="1050" cy="751" rx="34" ry="13"/><text x="1050" y="755">CRB2</text></g>
<g id="OTOF"><ellipse class="g" cx="812" cy="795" rx="34" ry="13"/><text x="812" y="799">OTOF</text></g>
<g id="DIAPH3"><ellipse class="g" cx="921" cy="794" rx="34" ry="13"/><text x="921" y="798">DIAPH3</text></g>
</g>
<g id="caption">
<text x="40" y="1141" font-size="13" fill="#555" textLength="63" lengthAdjust="spacingAndGlyphs">FIGURE 5</text>
<text class="cap" x="40" y="1165" textLength="1164" lengthAdjust="spacingAndGlyphs">PPI network and functional clusters of the down-regulated DEGs. Green, pink and purple nodes represent green, pink and purple clusters,</text>
<text class="cap" x="40" y="1189" textLength="1206" lengthAdjust="spacingAndGlyphs">respectively. Oval circles indicate the DEGs that were presented in at least 50% of the Jackknife test results. The DEGs that were located in QTL</text>
<text class="cap" x="40" y="1213" textLength="466" lengthAdjust="spacingAndGlyphs">regions related to fatness are represented as bold texts.</text>
</g>
</svg>
